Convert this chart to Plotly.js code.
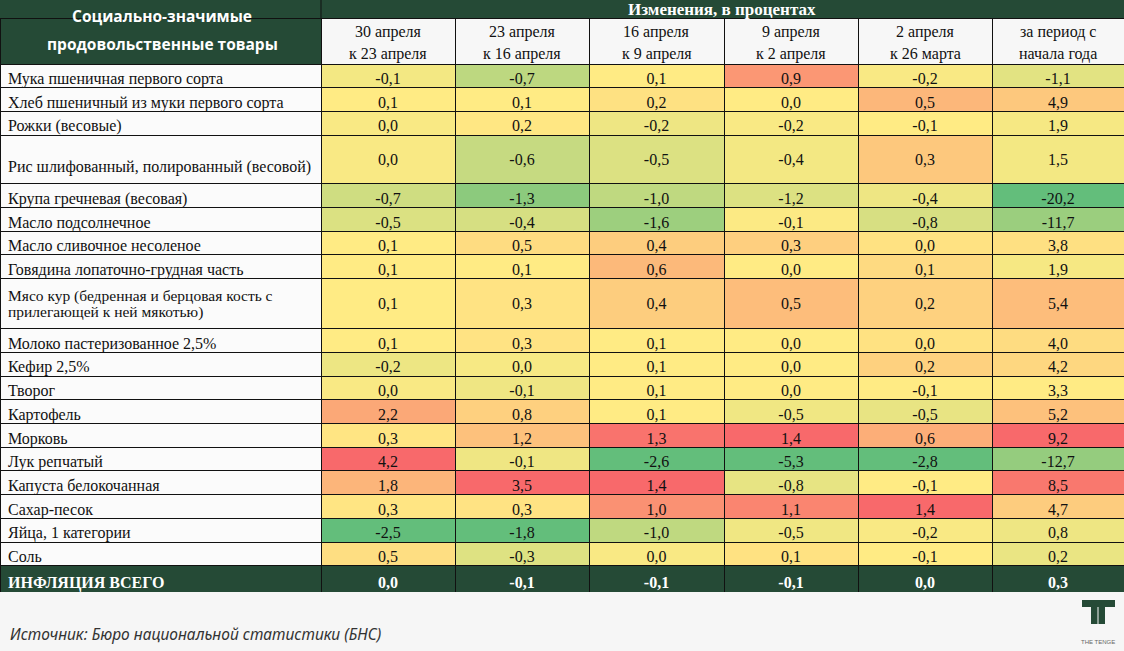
<!DOCTYPE html>
<html>
<head>
<meta charset="utf-8">
<script src="https://cdn.plot.ly/plotly-3.0.1.min.js"></script>
<style>html,body{margin:0;padding:0;background:#f6f6f6;}#chart{width:1124px;height:651px;}</style>
</head>
<body>
<div id="chart"></div>
<script>
// ---------- DATA ----------
var products = [
  "Мука пшеничная первого сорта",
  "Хлеб пшеничный из муки первого сорта",
  "Рожки (весовые)",
  "Рис шлифованный, полированный (весовой)",
  "Крупа гречневая (весовая)",
  "Масло подсолнечное",
  "Масло сливочное несоленое",
  "Говядина лопаточно-грудная часть",
  "Мясо кур (бедренная и берцовая кость с|прилегающей к ней мякотью)",
  "Молоко пастеризованное 2,5%",
  "Кефир 2,5%",
  "Творог",
  "Картофель",
  "Морковь",
  "Лук репчатый",
  "Капуста белокочанная",
  "Сахар-песок",
  "Яйца, 1 категории",
  "Соль"
];
var totalLabel = "ИНФЛЯЦИЯ ВСЕГО";
var periodLabels = [
  ["30 апреля", "к 23 апреля"],
  ["23 апреля", "к 16 апреля"],
  ["16 апреля", "к 9 апреля"],
  ["9 апреля", "к 2 апреля"],
  ["2 апреля", "к 26 марта"],
  ["за период с", "начала года"]
];
var headerLeft = ["Социально-значимые", "продовольственные товары"];
var headerTop = "Изменения, в процентах";
var sourceText = "Источник: Бюро национальной статистики (БНС)";

var apr30 = [-0.1, 0.1, 0.0, 0.0, -0.7, -0.5, 0.1, 0.1, 0.1, 0.1, -0.2, 0.0, 2.2, 0.3, 4.2, 1.8, 0.3, -2.5, 0.5];
var apr23 = [-0.7, 0.1, 0.2, -0.6, -1.3, -0.4, 0.5, 0.1, 0.3, 0.3, 0.0, -0.1, 0.8, 1.2, -0.1, 3.5, 0.3, -1.8, -0.3];
var apr16 = [0.1, 0.2, -0.2, -0.5, -1.0, -1.6, 0.4, 0.6, 0.4, 0.1, 0.1, 0.1, 0.1, 1.3, -2.6, 1.4, 1.0, -1.0, 0.0];
var apr9  = [0.9, 0.0, -0.2, -0.4, -1.2, -0.1, 0.3, 0.0, 0.5, 0.0, 0.0, 0.0, -0.5, 1.4, -5.3, -0.8, 1.1, -0.5, 0.1];
var apr2  = [-0.2, 0.5, -0.1, 0.3, -0.4, -0.8, 0.0, 0.1, 0.2, 0.0, 0.2, -0.1, -0.5, 0.6, -2.8, -0.1, 1.4, -0.2, -0.1];
var ytd   = [-1.1, 4.9, 1.9, 1.5, -20.2, -11.7, 3.8, 1.9, 5.4, 4.0, 4.2, 3.3, 5.2, 9.2, -12.7, 8.5, 4.7, 0.8, 0.2];
var totals = [0.0, -0.1, -0.1, -0.1, 0.0, 0.3];

// ---------- STYLE ----------
var DARK = "#254a36";
var GREEN = [99, 190, 123], YELLOW = [255, 235, 132], RED = [248, 105, 107];
var columns = [apr30, apr23, apr16, apr9, apr2, ytd];
var colW = [321, 134, 134, 135, 134, 134, 132];
var FS = 16;
var tallRows = [3, 8]; // rows drawn double height in the source

function mix(a, b, t) {
  return "rgb(" + a.map(function (v, i) { return Math.round(v + (b[i] - v) * t); }).join(",") + ")";
}
function median(arr) {
  var s = arr.slice().sort(function (a, b) { return a - b; });
  var n = s.length, p = (n - 1) * 0.5, lo = Math.floor(p), hi = Math.ceil(p);
  return s[lo] + (s[hi] - s[lo]) * (p - lo);
}
function scaleColors(arr) {
  var mn = Math.min.apply(null, arr), mx = Math.max.apply(null, arr), md = median(arr);
  return arr.map(function (v) {
    if (v <= md) return mix(GREEN, YELLOW, md === mn ? 1 : (v - mn) / (md - mn));
    return mix(YELLOW, RED, mx === md ? 0 : (v - md) / (mx - md));
  });
}
function fmt(v) { return v.toFixed(1).replace(".", ","); }
function sized(s, px) { return "<span style='font-size:" + px + "px'>" + s + "</span>"; }
function isTall(i) { return tallRows.indexOf(i) >= 0; }

// label cells: two-line rows get a reduced line pitch (cell font size) with full size glyphs
var labelCells = [], labelSizes = [];
products.forEach(function (p, i) {
  if (!isTall(i)) { labelCells.push(p); labelSizes.push(FS); return; }
  var parts = p.split("|");
  if (parts.length === 1) {
    labelCells.push(sized("\u00a0", 4) + "<br>" + sized(parts[0], FS));
    labelSizes.push(19);
  } else {
    labelCells.push(parts.map(function (s) { return sized(s, 15.5); }).join("<br>"));
    labelSizes.push(12.4);
  }
});

var cellValues = [labelCells.concat(["<b>" + totalLabel + "</b>"])];
var cellFill = [products.map(function () { return "#fbfbfb"; }).concat([DARK])];
var cellFontColor = [products.map(function () { return "#111"; }).concat(["#ffffff"])];
var cellFontSize = [labelSizes.concat([FS])];
columns.forEach(function (col, j) {
  cellValues.push(col.map(function (v, i) {
    return isTall(i) ? "\u00a0<br>" + sized(fmt(v), FS) : fmt(v);
  }).concat(["<b>" + fmt(totals[j]) + "</b>"]));
  cellFill.push(scaleColors(col).concat([DARK]));
  cellFontColor.push(col.map(function () { return "#111"; }).concat(["#ffffff"]));
  cellFontSize.push(col.map(function (v, i) { return isTall(i) ? 10 : FS; }).concat([FS]));
});

var W = 1124, H = 651;
function py(px) { return 1 - px / H; }

var table = {
  type: "table",
  domain: { x: [0, 1], y: [py(592), py(18)] },
  columnwidth: colW,
  header: {
    values: ["", "", "", "", "", "", ""],
    align: "center",
    height: 46,
    fill: { color: [DARK, "#f7f7f7", "#f7f7f7", "#f7f7f7", "#f7f7f7", "#f7f7f7", "#f7f7f7"] },
    line: { color: "#111", width: 1 },
    font: { family: "Liberation Serif", size: FS, color: "#111" }
  },
  cells: {
    values: cellValues,
    align: ["left", "center", "center", "center", "center", "center", "center"],
    height: 23.7,
    fill: { color: cellFill },
    line: { color: "#111", width: 1 },
    font: { family: "Liberation Serif", size: cellFontSize, color: cellFontColor }
  }
};

var annotations = [
  { xref: "paper", yref: "paper", x: 162 / W, y: py(16), text: "<b>" + headerLeft[0] + "</b>", showarrow: false, xanchor: "center", yanchor: "middle", font: { family: "Open Sans", size: 15.5, color: "#ffffff" } },
  { xref: "paper", yref: "paper", x: 162 / W, y: py(44), text: "<b>" + headerLeft[1] + "</b>", showarrow: false, xanchor: "center", yanchor: "middle", font: { family: "Open Sans", size: 15.5, color: "#ffffff" } },
  { xref: "paper", yref: "paper", x: 722 / W, y: py(10), text: "<b>" + headerTop + "</b>", showarrow: false, xanchor: "center", yanchor: "middle", font: { family: "Liberation Serif", size: 17, color: "#ffffff" } },
  { xref: "paper", yref: "paper", x: 8 / W, y: py(634), text: "<i>" + sourceText + "</i>", showarrow: false, xanchor: "left", yanchor: "middle", font: { family: "Noto Sans", size: 15.5, color: "#333" } },
  { xref: "paper", yref: "paper", x: 1098 / W, y: py(642), text: "THE TENGE", showarrow: false, xanchor: "center", yanchor: "middle", font: { family: "Liberation Sans", size: 6, color: "#666" } }
];
var xEdge = colW[0];
periodLabels.forEach(function (lines, j) {
  var cx = xEdge + colW[j + 1] / 2;
  xEdge += colW[j + 1];
  [32, 54].forEach(function (yy, k) {
    annotations.push({ xref: "paper", yref: "paper", x: cx / W, y: py(yy), text: lines[k], showarrow: false, xanchor: "center", yanchor: "middle", font: { family: "Liberation Serif", size: FS, color: "#111" } });
  });
});

var layout = {
  width: W, height: H,
  margin: { l: 0, r: 0, t: 0, b: 0 },
  paper_bgcolor: "#f6f6f6",
  font: { family: "Liberation Serif" },
  shapes: [
    { type: "rect", xref: "paper", yref: "paper", x0: 0, x1: 1, y0: py(18), y1: 1, fillcolor: DARK, line: { width: 0 } },
    { type: "line", xref: "paper", yref: "paper", x0: 321 / W, x1: 321 / W, y0: py(18), y1: 1, line: { color: "#111", width: 1 } },
    { type: "rect", xref: "paper", yref: "paper", x0: 1082 / W, x1: 1115 / W, y0: py(607), y1: py(600), fillcolor: DARK, line: { width: 0 } },
    { type: "rect", xref: "paper", yref: "paper", x0: 1091 / W, x1: 1097.5 / W, y0: py(624), y1: py(607), fillcolor: DARK, line: { width: 0 } },
    { type: "rect", xref: "paper", yref: "paper", x0: 1098.5 / W, x1: 1105 / W, y0: py(624), y1: py(607), fillcolor: DARK, line: { width: 0 } }
  ],
  annotations: annotations
};

Plotly.newPlot("chart", [table], layout, { displayModeBar: false, staticPlot: true });
</script>
</body>
</html>
